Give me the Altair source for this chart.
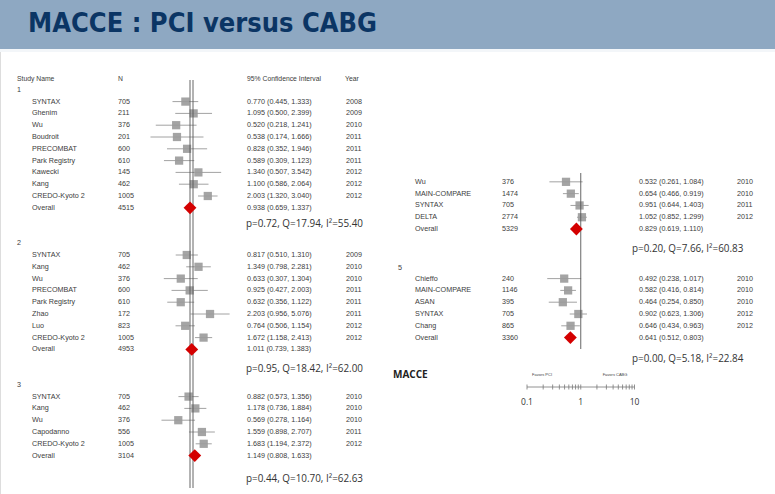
import altair as alt
import pandas as pd

# ---------------- data ----------------
g1_names = ["SYNTAX", "Ghenim", "Wu", "Boudroit", "PRECOMBAT", "Park Registry", "Kawecki", "Kang", "CREDO-Kyoto 2"]
g1_n = [705, 211, 376, 201, 600, 610, 145, 462, 1005]
g1_est = [0.770, 1.095, 0.520, 0.538, 0.828, 0.589, 1.340, 1.100, 2.003]
g1_lo = [0.445, 0.500, 0.218, 0.174, 0.352, 0.309, 0.507, 0.586, 1.320]
g1_hi = [1.333, 2.399, 1.241, 1.666, 1.946, 1.123, 3.542, 2.064, 3.040]
g1_year = [2008, 2009, 2010, 2011, 2011, 2011, 2012, 2012, 2012]
g1_overall = [4515, 0.938, 0.659, 1.337]
g1_stat = "p=0.72, Q=17.94, I²=55.40"

g2_names = ["SYNTAX", "Kang", "Wu", "PRECOMBAT", "Park Registry", "Zhao", "Luo", "CREDO-Kyoto 2"]
g2_n = [705, 462, 376, 600, 610, 172, 823, 1005]
g2_est = [0.817, 1.349, 0.633, 0.925, 0.632, 2.203, 0.764, 1.672]
g2_lo = [0.510, 0.798, 0.307, 0.427, 0.356, 0.956, 0.506, 1.158]
g2_hi = [1.310, 2.281, 1.304, 2.003, 1.122, 5.076, 1.154, 2.413]
g2_year = [2009, 2010, 2010, 2011, 2011, 2011, 2012, 2012]
g2_overall = [4953, 1.011, 0.739, 1.383]
g2_stat = "p=0.95, Q=18.42, I²=62.00"

g3_names = ["SYNTAX", "Kang", "Wu", "Capodanno", "CREDO-Kyoto 2"]
g3_n = [705, 462, 376, 556, 1005]
g3_est = [0.882, 1.178, 0.569, 1.559, 1.683]
g3_lo = [0.573, 0.736, 0.278, 0.898, 1.194]
g3_hi = [1.356, 1.884, 1.164, 2.707, 2.372]
g3_year = [2010, 2010, 2010, 2011, 2012]
g3_overall = [3104, 1.149, 0.808, 1.633]
g3_stat = "p=0.44, Q=10.70, I²=62.63"

g4_names = ["Wu", "MAIN-COMPARE", "SYNTAX", "DELTA"]
g4_n = [376, 1474, 705, 2774]
g4_est = [0.532, 0.654, 0.951, 1.052]
g4_lo = [0.261, 0.466, 0.644, 0.852]
g4_hi = [1.084, 0.919, 1.403, 1.299]
g4_year = [2010, 2010, 2011, 2012]
g4_overall = [5329, 0.829, 0.619, 1.110]
g4_stat = "p=0.20, Q=7.66, I²=60.83"

g5_names = ["Chieffo", "MAIN-COMPARE", "ASAN", "SYNTAX", "Chang"]
g5_n = [240, 1146, 395, 705, 865]
g5_est = [0.492, 0.582, 0.464, 0.902, 0.646]
g5_lo = [0.238, 0.416, 0.254, 0.623, 0.434]
g5_hi = [1.017, 0.814, 0.850, 1.306, 0.963]
g5_year = [2010, 2010, 2010, 2012, 2012]
g5_overall = [3360, 0.641, 0.512, 0.803]
g5_stat = "p=0.00, Q=5.18, I²=22.84"

axis_ticks = [0.1, 0.2, 0.3, 0.4, 0.5, 0.6, 0.7, 0.8, 0.9, 1, 2, 3, 4, 5, 6, 7, 8, 9, 10]
axis_labels = ["0.1", "1", "10"]
axis_label_values = [0.1, 1, 10]

# ---------------- layout (row slots) ----------------
rows, labels, stats = [], [], []


def add_group(panel, label, label_slot, first_slot, stat_slot, names, ns, est, lo, hi, years, overall, stat):
    if label is not None:
        labels.append({"panel": panel, "slot": label_slot, "text": label})
    for i, nm in enumerate(names):
        rows.append({"panel": panel, "slot": first_slot + i, "kind": "study", "name": nm,
                     "n": str(ns[i]), "est": est[i], "lo": lo[i], "hi": hi[i],
                     "ci": f"{est[i]:.3f} ({lo[i]:.3f}, {hi[i]:.3f})", "year": str(years[i])})
    n, e, l, h = overall
    rows.append({"panel": panel, "slot": first_slot + len(names), "kind": "overall", "name": "Overall",
                 "n": str(n), "est": e, "lo": l, "hi": h,
                 "ci": f"{e:.3f} ({l:.3f}, {h:.3f})", "year": ""})
    stats.append({"panel": panel, "slot": stat_slot, "text": stat})


add_group("L", "1", 1, 2, 12.4, g1_names, g1_n, g1_est, g1_lo, g1_hi, g1_year, g1_overall, g1_stat)
add_group("L", "2", 14, 15, 24.7, g2_names, g2_n, g2_est, g2_lo, g2_hi, g2_year, g2_overall, g2_stat)
add_group("L", "3", 26, 27, 34, g3_names, g3_n, g3_est, g3_lo, g3_hi, g3_year, g3_overall, g3_stat)
add_group("R", None, 0, 8.8, 14.5, g4_names, g4_n, g4_est, g4_lo, g4_hi, g4_year, g4_overall, g4_stat)
add_group("R", "5", 16.1, 17.0, 23.8, g5_names, g5_n, g5_est, g5_lo, g5_hi, g5_year, g5_overall, g5_stat)

df = pd.DataFrame(rows)
lab_df = pd.DataFrame(labels)
stat_df = pd.DataFrame(stats)
one = pd.DataFrame({"v": [1]})

yscale = alt.Scale(domain=[0, 34], range=[78, 78 + 11.8 * 34], nice=False, zero=False)
Y = alt.Y("slot:Q", scale=yscale, axis=None)

TAB_FONT = "Liberation Sans"
STAT_FONT = "Open Sans"
TXT = "#3c3c3c"

# ---------------- title band ----------------
band = alt.Chart(one).mark_rect(color="#8ea8c2").encode(
    x=alt.value(0), x2=alt.value(775), y=alt.value(0), y2=alt.value(49))
strip = alt.Chart(one).mark_rect(color="#f3f6f9").encode(
    x=alt.value(0), x2=alt.value(775), y=alt.value(49), y2=alt.value(52))
title = alt.Chart(one).mark_text(
    text="MACCE : PCI versus CABG", align="left", baseline="middle",
    font="DejaVu Sans Condensed, Liberation Sans",
    fontWeight="bold", fontSize=27, color="#0b3564").encode(x=alt.value(28), y=alt.value(24))

# ---------------- headers ----------------
hdr_layers = []
for txt, xp in zip(["Study Name", "N", "95% Confidence Interval", "Year"], [17, 118, 247, 345]):
    hdr_layers.append(alt.Chart(one).mark_text(text=txt, align="left", baseline="middle",
                                               font=TAB_FONT, fontSize=6.8, color=TXT)
                      .encode(x=alt.value(xp), y=alt.value(79)))


def text_cols(panel, xs):
    d = df[df.panel == panel]
    out = []
    for field, xp in zip(["name", "n", "ci", "year"], xs):
        out.append(alt.Chart(d).mark_text(align="left", baseline="middle", font=TAB_FONT,
                                          fontSize=7.2, color=TXT)
                   .encode(x=alt.value(xp), y=Y, text=f"{field}:N"))
    return out


left_text = text_cols("L", [32, 118, 247, 346])
right_text = text_cols("R", [415, 502, 639, 737])

group_lab_L = alt.Chart(lab_df[lab_df.panel == "L"]).mark_text(
    align="left", baseline="middle", font=TAB_FONT, fontSize=7.2, color=TXT).encode(
    x=alt.value(17), y=Y, text="text:N")
group_lab_R = alt.Chart(lab_df[lab_df.panel == "R"]).mark_text(
    align="left", baseline="middle", font=TAB_FONT, fontSize=7.2, color=TXT).encode(
    x=alt.value(398), y=Y, text="text:N")

stat_L = alt.Chart(stat_df[stat_df.panel == "L"]).mark_text(
    align="left", baseline="middle", font=STAT_FONT, fontSize=9.9, color="#333333").encode(
    x=alt.value(246), y=Y, text="text:N")
stat_R = alt.Chart(stat_df[stat_df.panel == "R"]).mark_text(
    align="left", baseline="middle", font=STAT_FONT, fontSize=9.9, color="#333333").encode(
    x=alt.value(632), y=Y, text="text:N")


# ---------------- forest panels ----------------
def forest(panel, xrange, ref_y, double):
    xs = alt.Scale(type="log", domain=[0.1, 10], range=xrange, nice=False)
    d = df[df.panel == panel]
    st = d[d.kind == "study"]
    ov = d[d.kind == "overall"]
    ci = alt.Chart(st).mark_rule(color="#8a8a8a", strokeWidth=0.8).encode(
        x=alt.X("lo:Q", scale=xs, axis=None), x2="hi:Q", y=Y)
    sq = alt.Chart(st).mark_square(size=68, color="#9a9a9a", opacity=0.9).encode(
        x=alt.X("est:Q", scale=xs, axis=None), y=Y)
    refs = []
    offs = [-1.5, 1.5] if double else [0]
    for o in offs:
        refs.append(alt.Chart(one).mark_rule(color="#555555", strokeWidth=0.9, xOffset=o).encode(
            x=alt.X("v:Q", scale=xs, axis=None), y=alt.value(ref_y[0]), y2=alt.value(ref_y[1])))
    dia = alt.Chart(ov).mark_point(shape="diamond", filled=True, size=165, color="#d40000",
                                   opacity=1).encode(x=alt.X("est:Q", scale=xs, axis=None), y=Y)
    return xs, [ci, sq] + refs + [dia]


xs_L, left_layers = forest("L", [137.5, 245.5], (80, 488), True)
xs_R, right_layers = forest("R", [527, 634.5], (173, 349), False)

# bottom axis of right panel
ax_df = pd.DataFrame({"a": [0.1], "b": [10]})
tick_df = pd.DataFrame({"t": axis_ticks})
lab_ax_df = pd.DataFrame({"t": axis_label_values, "label": axis_labels})
ax_line = alt.Chart(ax_df).mark_rule(color="#777777", strokeWidth=0.8).encode(
    x=alt.X("a:Q", scale=xs_R, axis=None), x2="b:Q", y=alt.value(387))
ax_ticks = alt.Chart(tick_df).mark_rule(color="#777777", strokeWidth=0.8).encode(
    x=alt.X("t:Q", scale=xs_R, axis=None), y=alt.value(384.5), y2=alt.value(389.5))
ax_labels = alt.Chart(lab_ax_df).mark_text(font=STAT_FONT, fontSize=8.5, color="#333333",
                                           baseline="middle").encode(
    x=alt.X("t:Q", scale=xs_R, axis=None), y=alt.value(402), text="label:N")

left_forest = alt.layer(*left_layers)
right_forest = alt.layer(*right_layers, ax_line, ax_ticks, ax_labels)

macce = alt.Chart(one).mark_text(text="MACCE", align="left", baseline="middle", font=STAT_FONT,
                                 fontWeight="bold", fontSize=10, color="#222222").encode(
    x=alt.value(393), y=alt.value(375))
fav_pci = alt.Chart(one).mark_text(text="Favors PCI", align="center", baseline="middle",
                                   font=TAB_FONT, fontSize=4, color="#444444").encode(
    x=alt.value(542), y=alt.value(375))
fav_cabg = alt.Chart(one).mark_text(text="Favors CABG", align="center", baseline="middle",
                                    font=TAB_FONT, fontSize=4, color="#444444").encode(
    x=alt.value(615), y=alt.value(375))

chart = alt.layer(
    band, strip, title, *hdr_layers,
    *left_text, *right_text, group_lab_L, group_lab_R, stat_L, stat_R,
    macce, fav_pci, fav_cabg,
    left_forest, right_forest,
).resolve_scale(x="independent").properties(
    width=775, height=494, padding=0,
    autosize=alt.AutoSizeParams(type="none"),
).configure_view(stroke=None).configure(background="white")

chart.save("out.html", embed_options={"renderer": "svg", "actions": False})
